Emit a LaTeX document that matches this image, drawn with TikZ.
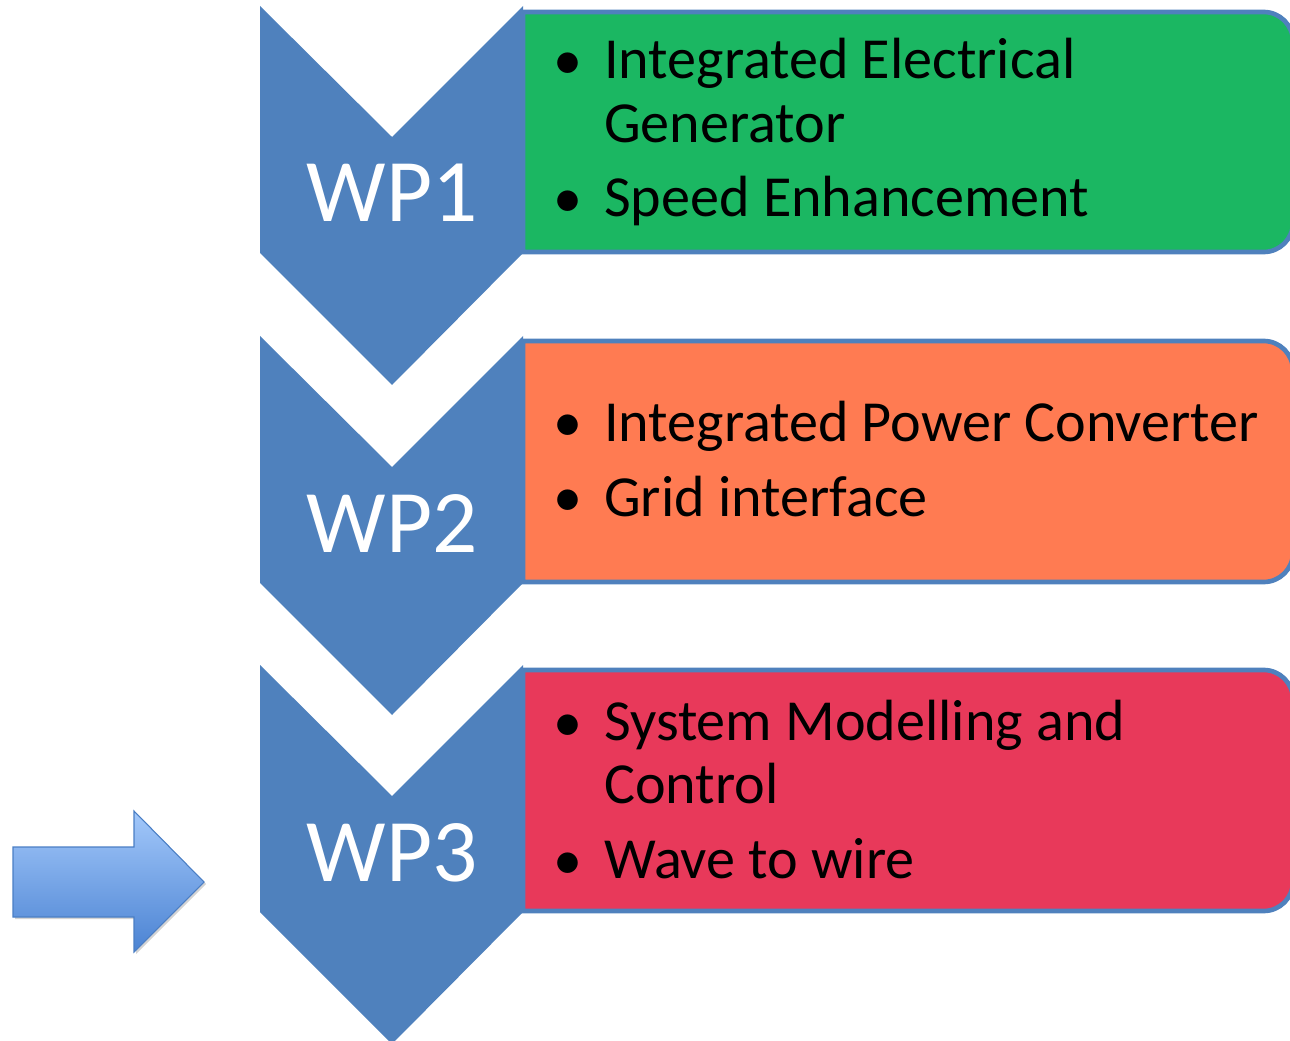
\documentclass[tikz,border=0pt]{standalone}
\usepackage{fontspec}
\setmainfont{Carlito}
\usetikzlibrary{shadows}
\definecolor{chev}{HTML}{4F81BD}
\definecolor{gbox}{HTML}{1BB762}
\definecolor{obox}{HTML}{FF7B52}
\definecolor{rbox}{HTML}{E8395A}
\definecolor{arrtop}{HTML}{A3C8FA}
\definecolor{arrbot}{HTML}{4B83D3}
\definecolor{arredge}{HTML}{4A7EC4}
\tikzset{
  chevron/.style={fill=chev,draw=none},
  itembox/.style={draw=chev,line width=3.5pt},
  wp/.style={text=white,font=\fontsize{67}{80}\selectfont,anchor=base,inner sep=0pt},
  txt/.style={text=black,font=\fontsize{43.6}{50}\selectfont,anchor=base west,inner sep=0pt},
  bul/.style={text=black,font=\fontsize{43.6}{50}\selectfont,anchor=base,inner sep=0pt},
}
\begin{document}
\begin{tikzpicture}[x=0.75pt,y=-0.75pt]
\useasboundingbox (0,0) rectangle (1290,1041);
\begin{scope}
\clip (0,0) rectangle (1290,1041);
% boxes
\draw[itembox,fill=gbox] (523,252) -- (523,12) [rounded corners=22pt] -- (1293,12) -- (1293,252) [sharp corners] -- cycle;
\draw[itembox,fill=obox] (523,582) -- (523,341) [rounded corners=22pt] -- (1293,341) -- (1293,582) [sharp corners] -- cycle;
\draw[itembox,fill=rbox] (523,911) -- (523,670) [rounded corners=22pt] -- (1293,670) -- (1293,911) [sharp corners] -- cycle;
% chevrons
\fill[chevron] (260,6) -- (392,137) -- (523,6) -- (523,253) -- (392,385) -- (260,253) -- cycle;
\fill[chevron] (260,336) -- (392,467) -- (523,336) -- (523,583) -- (392,715) -- (260,583) -- cycle;
\fill[chevron] (260,665) -- (392,796) -- (523,665) -- (523,912) -- (392,1044) -- (260,912) -- cycle;
\end{scope}
% left arrow
\path[drop shadow={opacity=0.35,shadow xshift=1.5pt,shadow yshift=-1.5pt},top color=arrtop,bottom color=arrbot,draw=arredge,line width=0.8pt]
 (13,847) -- (134,847) -- (134,811) -- (204,882) -- (134,952) -- (134,917) -- (13,917) -- cycle;
% WP labels
\node[wp] (wp1) at (392,222) {WP1};
\node[wp] (wp2) at (392,552) {WP2};
\node[wp] (wp3) at (392,881) {WP3};
% box 1
\node[bul] (b1a) at (568,80) {\textbullet};
\node[txt] (t1a) at (604,79) {Integrated Electrical};
\node[txt] (t1b) at (604,143) {Generator};
\node[bul] (b1b) at (568,218) {\textbullet};
\node[txt] (t1c) at (604,217) {Speed Enhancement};
% box 2
\node[bul] (b2a) at (568,442) {\textbullet};
\node[txt] (t2a) at (604,441) {Integrated Power Converter};
\node[bul] (b2b) at (568,517) {\textbullet};
\node[txt] (t2b) at (604,516) {Grid interface};
% box 3
\node[bul] (b3a) at (568,741) {\textbullet};
\node[txt] (t3a) at (604,740) {System Modelling and};
\node[txt] (t3b) at (604,803) {Control};
\node[bul] (b3b) at (568,879) {\textbullet};
\node[txt] (t3c) at (604,878) {Wave to wire};
\end{tikzpicture}
\end{document}
